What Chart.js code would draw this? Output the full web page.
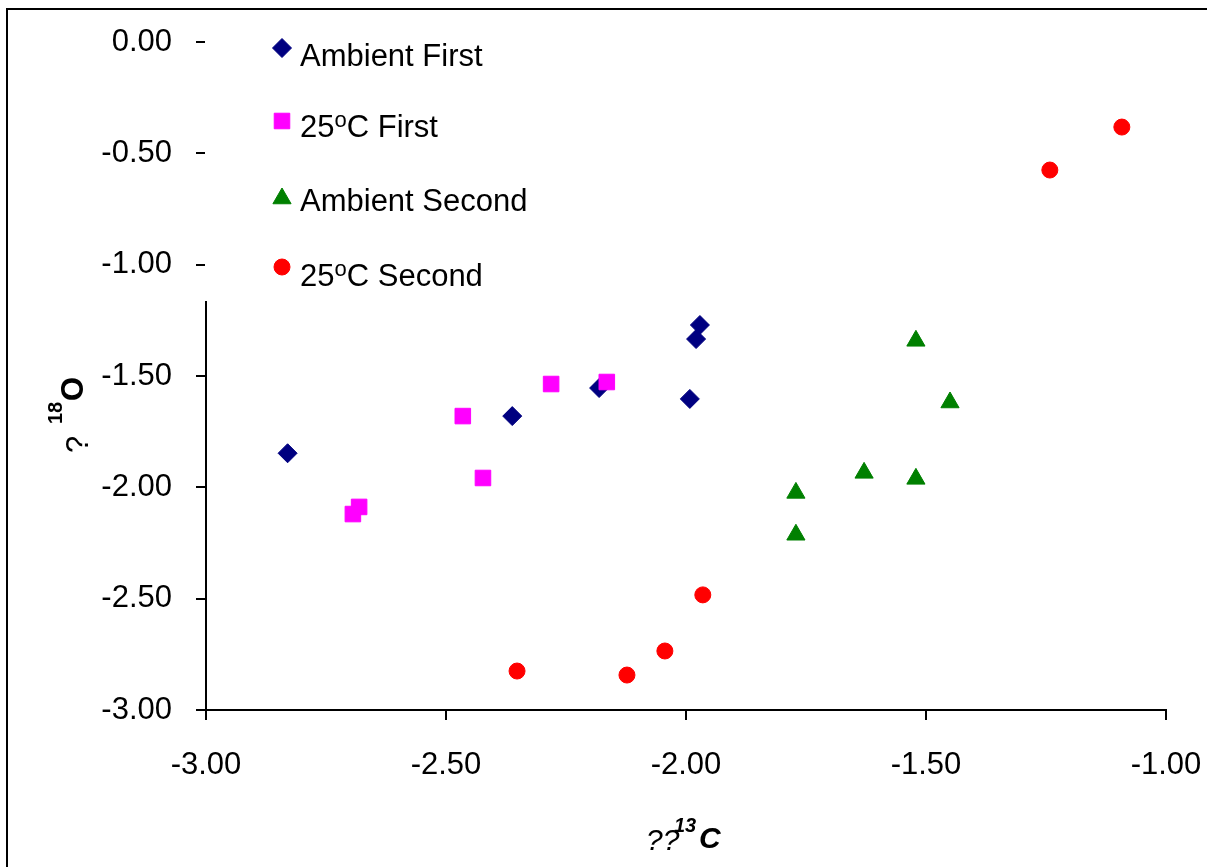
<!DOCTYPE html>
<html>
<head>
<meta charset="utf-8">
<script src="https://cdn.jsdelivr.net/npm/chart.js"></script>
<style>
  body { margin: 0; background: #fff; }
  canvas { display: block; }
</style>
</head>
<body>
<canvas id="grafica" width="1207" height="867"></canvas>
<script>
// datos (d13C, d18O)
const ambientFirstX = [-2.830, -2.362, -2.181, -1.992, -1.979, -1.971];
const ambientFirstY = [-1.847, -1.680, -1.554, -1.603, -1.334, -1.271];

const firstWarmX = [-2.694, -2.681, -2.465, -2.423, -2.281, -2.165];
const firstWarmY = [-2.120, -2.088, -1.680, -1.958, -1.536, -1.527];

const ambientSecondX = [-1.521, -1.450, -1.629, -1.521, -1.771, -1.771];
const ambientSecondY = [-1.342, -1.619, -1.935, -1.962, -2.025, -2.213];

const secondWarmX = [-2.352, -2.123, -2.044, -1.965, -1.242, -1.092];
const secondWarmY = [-2.825, -2.843, -2.735, -2.483, -0.575, -0.382];

const seriesLabels = ['Ambient First', '25ºC First', 'Ambient Second', '25ºC Second'];
const xTicks = [-3.00, -2.50, -2.00, -1.50, -1.00];
const yTicks = [0.00, -0.50, -1.00, -1.50, -2.00, -2.50, -3.00];

const FAM = '"Liberation Sans", Arial, sans-serif';

function puntos(xs, ys) {
  return xs.map((x, i) => ({ x: x, y: ys[i] }));
}

const estilos = [
  { pointStyle: 'rectRot', radius: 9.5, color: '#000080', order: 1 },
  { pointStyle: 'rect', radius: 11, color: '#FF00FF', order: 0 },
  { pointStyle: 'triangle', radius: 10.5, color: '#008000', order: 0 },
  { pointStyle: 'circle', radius: 8, color: '#FF0000', order: 0 }
];
const series = [
  puntos(ambientFirstX, ambientFirstY),
  puntos(firstWarmX, firstWarmY),
  puntos(ambientSecondX, ambientSecondY),
  puntos(secondWarmX, secondWarmY)
];

// texto con la "o" volada de 25ºC
function textoGrado(ctx, texto, x, y, size) {
  const partes = texto.split('º');
  ctx.font = size + 'px ' + FAM;
  ctx.fillText(partes[0], x, y);
  if (partes.length < 2) return;
  let w = ctx.measureText(partes[0]).width;
  ctx.font = '22px ' + FAM;
  ctx.fillText('o', x + w, y - 10);
  w += ctx.measureText('o').width;
  ctx.font = size + 'px ' + FAM;
  ctx.fillText(partes[1], x + w, y);
}

const marcoYLeyenda = {
  id: 'marcoYLeyenda',
  beforeDraw(chart) {
    const ctx = chart.ctx;
    ctx.save();
    ctx.fillStyle = '#fff';
    ctx.fillRect(0, 0, chart.width, chart.height);
    ctx.restore();
  },
  afterDraw(chart) {
    const ctx = chart.ctx;
    ctx.save();
    // caja blanca de la leyenda tapa el eje
    ctx.fillStyle = '#fff';
    ctx.fillRect(205, 12, 360, 289);

    // marco exterior
    ctx.strokeStyle = '#000';
    ctx.lineWidth = 2;
    ctx.strokeRect(7, 9, 1400, 1000);

    // leyenda
    const my = [48, 121, 198.5, 267];
    const ty = [66, 137, 211, 286];
    ctx.textBaseline = 'alphabetic';
    ctx.textAlign = 'left';
    estilos.forEach((e, i) => {
      ctx.fillStyle = e.color;
      ctx.strokeStyle = e.color;
      ctx.lineWidth = 1;
      Chart.helpers.drawPoint(ctx, { pointStyle: e.pointStyle, radius: e.radius, rotation: 0, borderWidth: 1 }, 282, my[i]);
      ctx.fillStyle = '#000';
      textoGrado(ctx, chart.data.datasets[i].label, 300, ty[i], 31);
    });

    // título eje x
    ctx.font = 'italic 30px ' + FAM;
    ctx.fillText('??', 646, 850);
    ctx.font = 'italic bold 20px ' + FAM;
    ctx.fillText('13', 674, 832);
    ctx.font = 'italic bold 30px ' + FAM;
    ctx.fillText('C', 699, 848);

    // título eje y (rotado)
    ctx.translate(88, 453);
    ctx.rotate(-Math.PI / 2);
    ctx.font = '31px ' + FAM;
    ctx.fillText('?', 0, 0);
    ctx.font = 'bold 20px ' + FAM;
    ctx.fillText('18', 29, -26);
    ctx.font = 'bold 31px ' + FAM;
    ctx.fillText('O', 52, -5);
    ctx.restore();
  }
};

const ctx = document.getElementById('grafica').getContext('2d');

const ejeComun = {
  type: 'linear',
  grid: {
    drawOnChartArea: false,
    drawTicks: true,
    tickLength: 10,
    color: '#000',
    lineWidth: 2
  },
  border: { display: true, color: '#000', width: 2 }
};

new Chart(ctx, {
  type: 'scatter',
  data: {
    datasets: series.map((d, i) => ({
      label: seriesLabels[i],
      data: d,
      pointStyle: estilos[i].pointStyle,
      pointRadius: estilos[i].radius,
      pointHoverRadius: estilos[i].radius,
      backgroundColor: estilos[i].color,
      borderColor: estilos[i].color,
      borderWidth: 1,
      order: estilos[i].order
    }))
  },
  options: {
    responsive: false,
    animation: false,
    devicePixelRatio: 1,
    layout: { padding: { top: 42, right: 41, left: 0, bottom: 0 } },
    plugins: {
      legend: { display: false },
      tooltip: { enabled: false },
      title: { display: false }
    },
    scales: {
      x: Object.assign({}, ejeComun, {
        min: xTicks[0],
        max: xTicks[xTicks.length - 1],
        afterBuildTicks: s => { s.ticks = xTicks.map(v => ({ value: v })); },
        afterFit: s => { s.height = 157; s.paddingLeft = 0; s.paddingRight = 0; },
        ticks: {
          color: '#000',
          padding: 27,
          font: { family: FAM, size: 31 },
          callback: v => v.toFixed(2)
        }
      }),
      y: Object.assign({}, ejeComun, {
        min: yTicks[yTicks.length - 1],
        max: yTicks[0],
        afterBuildTicks: s => { s.ticks = yTicks.slice().reverse().map(v => ({ value: v })); },
        afterFit: s => { s.width = 206; s.paddingTop = 0; s.paddingBottom = 0; },
        ticks: {
          color: '#000',
          padding: 24,
          font: { family: FAM, size: 31 },
          callback: v => v.toFixed(2)
        }
      })
    }
  },
  plugins: [marcoYLeyenda]
});
</script>
</body>
</html>
